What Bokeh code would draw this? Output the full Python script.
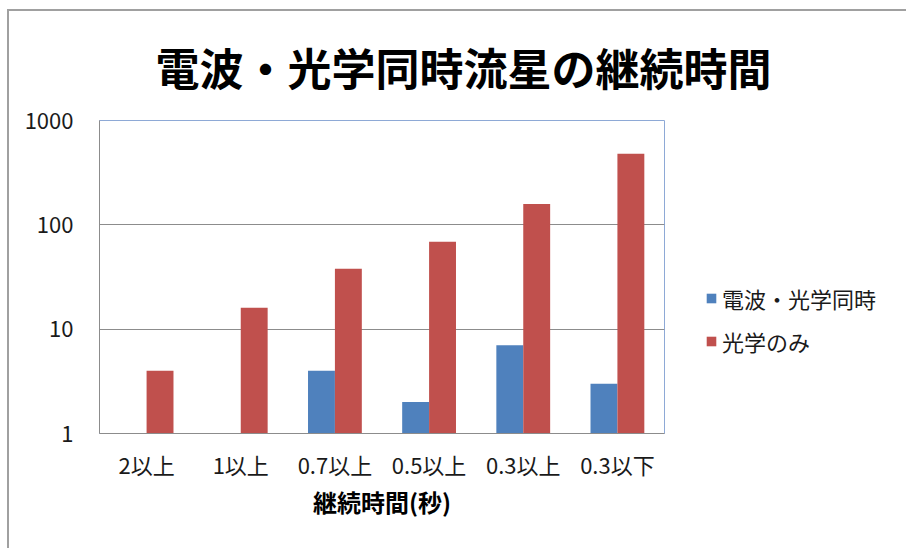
import numpy as np
from bokeh.plotting import figure
from bokeh.models import (ColumnDataSource, FactorRange, Range1d, FixedTicker, Legend,
                          LegendItem, PrintfTickFormatter)
from bokeh.transform import dodge
from bokeh.embed import file_html
from bokeh.resources import INLINE

# ---- data ----
categories = ["2以上", "1以上", "0.7以上", "0.5以上", "0.3以上", "0.3以下"]
radio_optical = [0, 0, 4, 2, 7, 3]        # 電波・光学同時
optical_only = [4, 16, 38, 69, 158, 480]  # 光学のみ
series_names = ["電波・光学同時", "光学のみ"]
y_ticks = [1, 10, 100, 1000]
y_tick_labels = ["1", "10", "100", "1000"]
title_text = "電波・光学同時流星の継続時間"
x_label = "継続時間(秒)"

BLUE = "#4F81BD"
RED = "#C0504D"
FONT = "Noto Sans CJK JP"


def nz(vals):
    return np.array([v if v > 0 else np.nan for v in vals], dtype=float)


src = ColumnDataSource(dict(
    cat=categories,
    a=nz(radio_optical),
    b=nz(optical_only),
    base=np.ones(len(categories)),
))

# offsets from the outer border (margin + border width)
OX, OY = 9, 11
W, H = 880, 537

p = figure(
    width=W, height=H,
    x_range=FactorRange(*categories, range_padding=0),
    y_range=Range1d(1, 1000),
    y_axis_type="log",
    output_backend="svg", toolbar_location=None,
    min_border_left=99 - OX, min_border_right=W - (664 - OX),
    min_border_top=120 - OY, min_border_bottom=H - (433 - OY),
    frame_width=565, frame_height=313,
)
p.styles = {"margin-top": "9px", "margin-left": "7px",
            "border-top": "2px solid #a0a0a0", "border-left": "2px solid #a0a0a0"}

bw = 1.0 / 3.5
ra = p.vbar(x=dodge("cat", -bw / 2, range=p.x_range), top="a", bottom="base", width=bw,
            source=src, fill_color=BLUE, line_color=None)
rb = p.vbar(x=dodge("cat", bw / 2, range=p.x_range), top="b", bottom="base", width=bw,
            source=src, fill_color=RED, line_color=None)

# title
p.title.text = title_text
p.title.text_font = FONT
p.title.text_font_style = "bold"
p.title.text_font_size = "44px"
p.title.text_color = "#000000"
p.title.align = "left"
p.title.offset = 56
p.title.standoff = 40
p.title.vertical_align = "top"
p.title.text_line_height = 0.8

# frame
p.background_fill_color = "white"
p.border_fill_color = "white"
p.outline_line_color = "#8EA9D6"
p.outline_line_width = 1

# axes
p.yaxis.ticker = FixedTicker(ticks=y_ticks)
p.yaxis.formatter = PrintfTickFormatter(format="%d")
p.yaxis.major_label_overrides = dict(zip(y_ticks, y_tick_labels))
p.yaxis.major_tick_line_color = None
p.yaxis.minor_tick_line_color = None
p.yaxis.major_tick_out = 0
p.yaxis.major_label_standoff = 26
p.yaxis.axis_line_color = "#8c8c8c"
p.yaxis.major_label_text_font = FONT
p.yaxis.major_label_text_font_size = "22px"
p.yaxis.major_label_text_color = "#1a1a1a"

p.xaxis.major_tick_line_color = None
p.xaxis.minor_tick_line_color = None
p.xaxis.major_tick_out = 0
p.xaxis.major_label_standoff = 14
p.xaxis.axis_line_color = "#8c8c8c"
p.xaxis.major_label_text_font = FONT
p.xaxis.major_label_text_font_size = "22px"
p.xaxis.major_label_text_color = "#1a1a1a"
p.xaxis.axis_label = x_label
p.xaxis.axis_label_text_font = FONT
p.xaxis.axis_label_text_font_style = "bold"
p.xaxis.axis_label_text_font_size = "24px"
p.xaxis.axis_label_text_color = "#000000"
p.xaxis.axis_label_standoff = 1

p.xgrid.grid_line_color = None
p.ygrid.ticker = FixedTicker(ticks=y_ticks)
p.ygrid.grid_line_color = "#8c8c8c"
p.ygrid.grid_line_width = 1

# legend
legend = Legend(
    items=[LegendItem(label=series_names[0], renderers=[ra]),
           LegendItem(label=series_names[1], renderers=[rb])],
    location=(41, 76),
    padding=0, margin=0, spacing=11,
    glyph_width=12, glyph_height=12, label_height=22, label_standoff=5,
    label_text_font=FONT, label_text_font_size="22px", label_text_color="#1a1a1a",
    border_line_color=None, background_fill_alpha=0,
)
p.add_layout(legend, "right")

open("out.html", "w").write(file_html(p, INLINE))
